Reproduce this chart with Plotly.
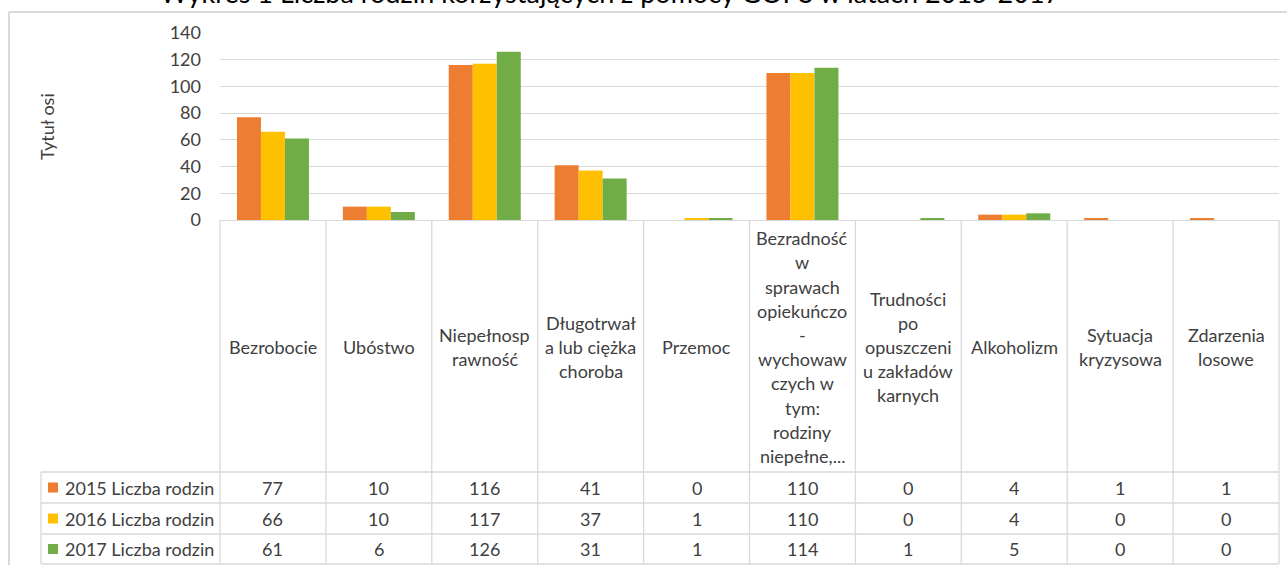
import plotly.graph_objects as go

# ---------------- data ----------------
categories = [
    "Bezrobocie", "Ubóstwo", "Niepełnosprawność", "Długotrwała lub ciężka choroba",
    "Przemoc", "Bezradność w sprawach opiekuńczo-wychowawczych w tym: rodziny niepełne,...",
    "Trudności po opuszczeniu zakładów karnych", "Alkoholizm", "Sytuacja kryzysowa",
    "Zdarzenia losowe",
]
category_labels = [
    "Bezrobocie",
    "Ubóstwo",
    "Niepełnosp<br>rawność",
    "Długotrwał<br>a lub ciężka<br>choroba",
    "Przemoc",
    "Bezradność<br>w<br>sprawach<br>opiekuńczo<br>-<br>wychowaw<br>czych w<br>tym:<br>rodziny<br>niepełne,...",
    "Trudności<br>po<br>opuszczeni<br>u zakładów<br>karnych",
    "Alkoholizm",
    "Sytuacja<br>kryzysowa",
    "Zdarzenia<br>losowe",
]
series_names = ["2015 Liczba rodzin", "2016 Liczba rodzin", "2017 Liczba rodzin"]
values_2015 = [77, 10, 116, 41, 0, 110, 0, 4, 1, 1]
values_2016 = [66, 10, 117, 37, 1, 110, 0, 4, 0, 0]
values_2017 = [61, 6, 126, 31, 1, 114, 1, 5, 0, 0]
y_ticks = [0, 20, 40, 60, 80, 100, 120, 140]
chart_title = "Wykres 1 Liczba rodzin korzystających z pomocy GOPS w latach 2015-2017"
axis_title = "Tytuł osi"

series_values = [values_2015, values_2016, values_2017]
colors = ["#ED7D31", "#FFC000", "#70AD47"]

# ---------------- layout constants (pixels) ----------------
W, H = 1287, 565
L, R, T, B = 220, 8, 33, 345
PW = W - L - R
PH = H - T - B
FONT = "Lato"
TXT = "#404040"
LINE = "#d9d9d9"
FS = 18


def px2x(px):
    return (px - L) / PW


def px2y(py):
    return (T + PH - py) / PH


fig = go.Figure()
for name, vals, col in zip(series_names, series_values, colors):
    fig.add_trace(go.Bar(x=categories, y=vals, name=name, marker_color=col,
                         marker_line_width=0, showlegend=False))

shapes = []
annotations = []

# table vertical lines
n = len(categories)
for k in range(n + 1):
    shapes.append(dict(type="line", xref="paper", yref="paper", x0=k / n, x1=k / n,
                       y0=0, y1=px2y(564), line=dict(color=LINE, width=1.3)))
# legend column left border
shapes.append(dict(type="line", xref="paper", yref="paper", x0=px2x(41), x1=px2x(41),
                   y0=px2y(472), y1=px2y(564), line=dict(color=LINE, width=1.3)))
# table row lines
row_edges = [472, 503, 534, 564]
for py in row_edges:
    shapes.append(dict(type="line", xref="paper", yref="paper", x0=px2x(41), x1=1,
                       y0=px2y(py), y1=px2y(py), line=dict(color=LINE, width=1.3)))

# category labels (one annotation per line for Excel-like line spacing)
LH = 24.2
for cat, lab in zip(categories, category_labels):
    lines = lab.split("<br>")
    m = len(lines)
    for i, ln in enumerate(lines):
        cy = 347 + (i - (m - 1) / 2) * LH
        annotations.append(dict(x=cat, xref="x", y=px2y(cy), yref="paper", text=ln,
                                showarrow=False, xanchor="center", yanchor="middle",
                                font=dict(family=FONT, size=FS, color=TXT)))

# data table rows
for r, (name, vals, col) in enumerate(zip(series_names, series_values, colors)):
    cy = (row_edges[r] + row_edges[r + 1]) / 2
    for cat, v in zip(categories, vals):
        annotations.append(dict(x=cat, xref="x", y=px2y(cy), yref="paper", text=str(v),
                                showarrow=False, xanchor="center", yanchor="middle",
                                font=dict(family=FONT, size=FS, color=TXT)))
    shapes.append(dict(type="rect", xref="paper", yref="paper", x0=px2x(48), x1=px2x(58),
                       y0=px2y(cy - 5), y1=px2y(cy + 5), fillcolor=col, line=dict(width=0)))
    annotations.append(dict(x=px2x(63), xref="paper", y=px2y(cy), yref="paper", text=name,
                            showarrow=False, xanchor="left", yanchor="middle",
                            font=dict(family=FONT, size=FS, color=TXT)))

# axis title
annotations.append(dict(x=px2x(47), xref="paper", y=px2y(127), yref="paper", text=axis_title,
                        textangle=-90, showarrow=False, xanchor="center", yanchor="middle",
                        font=dict(family=FONT, size=18, color=TXT)))
# chart title (cropped at top as in the reference)
annotations.append(dict(x=px2x(610), xref="paper", y=px2y(-8), yref="paper", text=chart_title,
                        showarrow=False, xanchor="center", yanchor="middle",
                        font=dict(family=FONT, size=27, color="#000000")))

# outer chart border (left and top), drawn above the title
shapes.append(dict(type="rect", xref="paper", yref="paper", x0=px2x(0), x1=px2x(1300),
                   y0=px2y(12), y1=px2y(-5), fillcolor="white", line=dict(width=0),
                   layer="above", opacity=0))
shapes.append(dict(type="line", xref="paper", yref="paper", x0=px2x(9), x1=px2x(9),
                   y0=px2y(12), y1=px2y(570), line=dict(color=LINE, width=2)))
shapes.append(dict(type="line", xref="paper", yref="paper", x0=px2x(9), x1=px2x(1300),
                   y0=px2y(12), y1=px2y(12), line=dict(color=LINE, width=2)))

fig.update_layout(
    width=W, height=H,
    margin=dict(l=L, r=R, t=T, b=B, pad=0),
    paper_bgcolor="white", plot_bgcolor="white",
    barmode="group", bargap=0.32, bargroupgap=0,
    shapes=shapes, annotations=annotations,
    font=dict(family=FONT, color=TXT),
    xaxis=dict(range=[-0.5, n - 0.5], showticklabels=False, showgrid=False, zeroline=False,
               showline=True, linecolor=LINE, linewidth=1.3, ticks=""),
    yaxis=dict(range=[0, 140], tickvals=y_ticks, showgrid=True, gridcolor=LINE, gridwidth=1.3,
               zeroline=False, showline=False, ticks="", ticklabelstandoff=18,
               tickfont=dict(family=FONT, size=FS, color=TXT)),
)

fig.write_html("out.html", config={"displayModeBar": False},
               post_script="document.body.style.margin='0';document.body.style.overflow='hidden';")
